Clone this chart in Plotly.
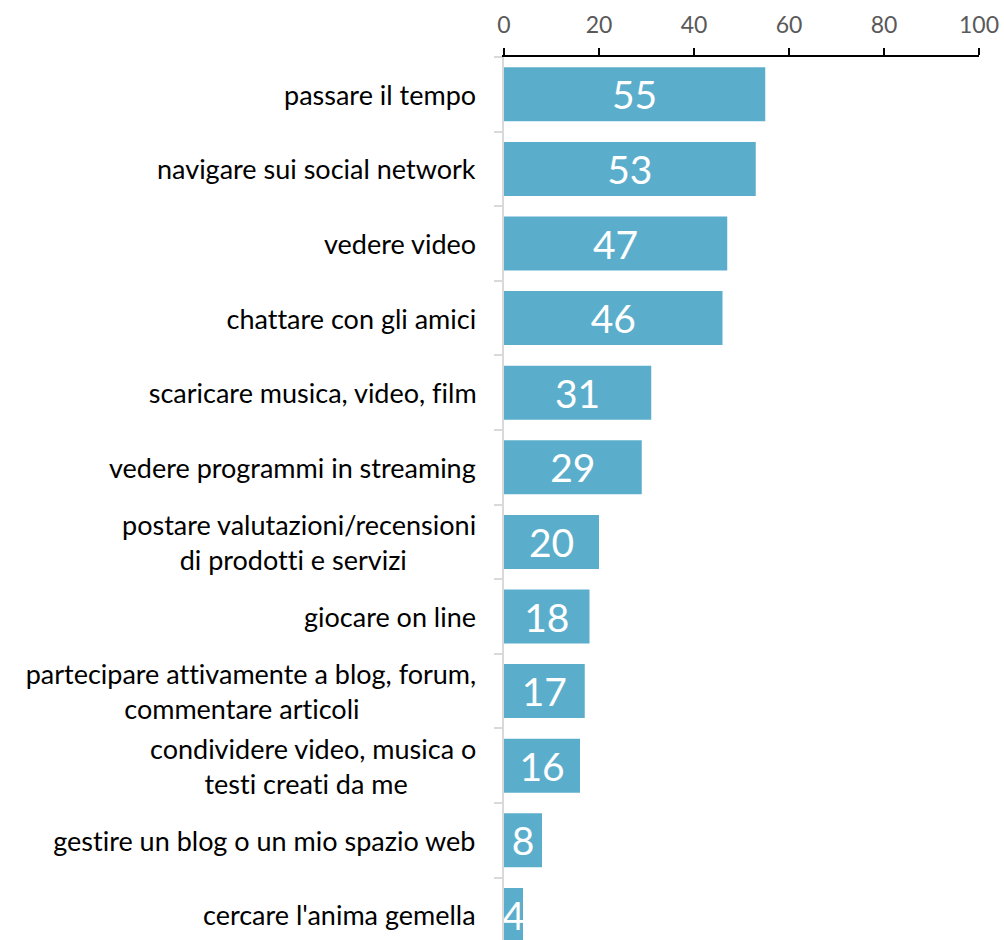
import plotly.graph_objects as go

categories = [
    "passare il tempo",
    "navigare sui social network",
    "vedere video",
    "chattare con gli amici",
    "scaricare musica, video, film",
    "vedere programmi in streaming",
    "postare valutazioni/recensioni<br>di prodotti e servizi",
    "giocare on line",
    "partecipare attivamente a blog, forum,<br>commentare articoli",
    "condividere video, musica o<br>testi creati da me",
    "gestire un blog o un mio spazio web",
    "cercare l'anima gemella",
]
values = [55, 53, 47, 46, 31, 29, 20, 18, 17, 16, 8, 4]
x_ticks = [0, 20, 40, 60, 80, 100]

BAR = "#5BAECB"
FONT = "Lato"

fig = go.Figure(
    go.Bar(
        y=list(range(len(categories))),
        x=values,
        orientation="h",
        marker=dict(color=BAR, line=dict(width=0)),
        text=[str(v) for v in values],
        textposition="inside",
        insidetextanchor="middle",
        textangle=0,
        constraintext="none",
        textfont=dict(family=FONT, size=39, color="white"),
        cliponaxis=True,
        hoverinfo="skip",
    )
)

# category labels as annotations (to reproduce centred two-line blocks)
short_line_centre = {6: -211, 8: -262, 9: -198}
annotations = []
for i, lab in enumerate(categories):
    lines = lab.split("<br>")
    if len(lines) == 1:
        annotations.append(dict(
            xref="paper", yref="y", x=0, y=i, text=lines[0], showarrow=False,
            xanchor="right", yanchor="middle", xshift=-26,
            font=dict(family=FONT, size=27, color="#000000")))
    else:
        annotations.append(dict(
            xref="paper", yref="y", x=0, y=i, text=lines[0], showarrow=False,
            xanchor="right", yanchor="middle", xshift=-26, yshift=17.5,
            font=dict(family=FONT, size=27, color="#000000")))
        annotations.append(dict(
            xref="paper", yref="y", x=0, y=i, text=lines[1], showarrow=False,
            xanchor="center", yanchor="middle", xshift=short_line_centre[i], yshift=-17.5,
            font=dict(family=FONT, size=27, color="#000000")))

n = len(categories)
fig.update_layout(
    width=1004,
    height=940,
    margin=dict(l=504, r=25, t=57, b=0, pad=0),
    paper_bgcolor="white",
    plot_bgcolor="white",
    bargap=0.276,
    showlegend=False,
    annotations=annotations,
    xaxis=dict(
        side="top",
        range=[0, 100],
        tickvals=x_ticks,
        ticktext=[str(t) for t in x_ticks],
        ticks="outside",
        ticklen=7,
        tickwidth=2,
        tickcolor="#000000",
        showline=True,
        linecolor="#000000",
        linewidth=2,
        showgrid=False,
        zeroline=False,
        tickfont=dict(family=FONT, size=23, color="#595959"),
        ticklabelstandoff=6,
        fixedrange=True,
    ),
    yaxis=dict(
        range=[-0.5 + 883 / 74.6, -0.5],
        tickvals=[i - 0.5 for i in range(n)],
        ticktext=["" for _ in range(n)],
        ticks="outside",
        ticklen=8,
        tickwidth=2,
        tickcolor="#d9d9d9",
        showline=True,
        linecolor="#d9d9d9",
        linewidth=2,
        showgrid=False,
        zeroline=False,
        showticklabels=False,
        fixedrange=True,
    ),
)

fig.write_html(
    "out.html",
    config={"displayModeBar": False, "staticPlot": True},
    post_script=(
        "var s=document.createElement('style');"
        "s.textContent='html,body{margin:0 !important;padding:0 !important;overflow:hidden;}"
        " svg text{font-variant-ligatures:none !important;"
        "font-feature-settings:\"liga\" 0,\"clig\" 0 !important;}';"
        "document.head.appendChild(s);"
    ),
)
